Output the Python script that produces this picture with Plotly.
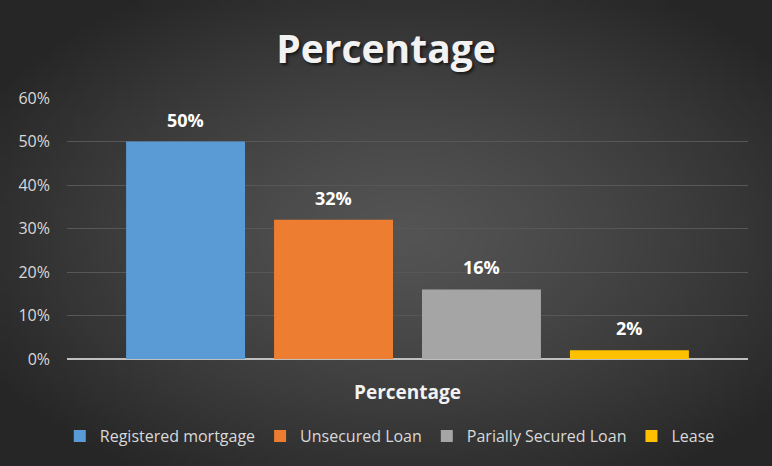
import base64, struct, zlib
import numpy as np
import plotly.graph_objects as go

categories = ["Percentage"]
series_names = ["Registered mortgage", "Unsecured Loan", "Parially Secured Loan", "Lease"]
series_values = [0.50, 0.32, 0.16, 0.02]
series_colors = ["#5b9bd5", "#ed7d31", "#a5a5a5", "#ffc000"]
y_ticks = [0, 0.1, 0.2, 0.3, 0.4, 0.5, 0.6]

BARGAP = 0.131
BARGROUPGAP = 0.196


def radial_png(w, h):
    yy, xx = np.mgrid[0:h, 0:w]
    cx, cy = w * 0.52, h * 0.5
    d = np.sqrt(((xx - cx) / (w * 0.62)) ** 2 + ((yy - cy) / (h * 0.62)) ** 2)
    d = np.clip(d, 0, 1)
    v = (84 - (84 - 38) * d ** 1.3).astype(np.uint8)
    raw = b"".join(b"\x00" + bytes(np.stack([v[r], v[r], v[r]], axis=1).flatten()) for r in range(h))

    def chunk(t, data):
        c = struct.pack(">I", len(data)) + t + data
        return c + struct.pack(">I", zlib.crc32(t + data) & 0xFFFFFFFF)

    png = b"\x89PNG\r\n\x1a\n" + chunk(b"IHDR", struct.pack(">IIBBBBB", w, h, 8, 2, 0, 0, 0))
    png += chunk(b"IDAT", zlib.compress(raw, 9)) + chunk(b"IEND", b"")
    return "data:image/png;base64," + base64.b64encode(png).decode()


fig = go.Figure()
n = len(series_names)
slot = (1 - BARGAP) / n
annotations = []
for i, (name, val, col) in enumerate(zip(series_names, series_values, series_colors)):
    fig.add_trace(go.Bar(
        x=categories, y=[val], name=name,
        marker=dict(color=col, line=dict(width=0)),
    ))
    annotations.append(dict(
        x=(i - (n - 1) / 2) * slot, y=val, xref="x", yref="y",
        text=f"{val:.0%}", showarrow=False, yshift=22, yanchor="middle",
        font=dict(family="Open Sans", size=18, color="#ffffff", weight="bold"),
    ))

fig.update_layout(
    width=772, height=466,
    margin=dict(l=67, r=24, t=98, b=107),
    paper_bgcolor="#3a3a3a",
    plot_bgcolor="rgba(0,0,0,0)",
    images=[dict(source=radial_png(193, 117), xref="paper", yref="paper",
                 x=-67 / 681, y=1 + 98 / 261, sizex=772 / 681, sizey=466 / 261,
                 sizing="stretch", layer="below", xanchor="left", yanchor="top")],
    annotations=annotations,
    barmode="group", bargap=BARGAP, bargroupgap=BARGROUPGAP,
    title=dict(text="Percentage", x=0.5, xref="container", y=0.895, yref="container",
               xanchor="center", yanchor="middle",
               font=dict(family="Open Sans", size=39, color="#f2f2f2", weight="bold",
                         shadow="2px 2px 3px rgba(0,0,0,0.6)")),
    font=dict(family="Open Sans", color="#d9d9d9"),
    showlegend=True,
    legend=dict(orientation="h", x=0.474, xanchor="center", y=-0.295, yanchor="middle",
                font=dict(size=16, color="#d9d9d9"), bgcolor="rgba(0,0,0,0)",
                itemwidth=30, traceorder="normal"),
    xaxis=dict(showticklabels=False, showgrid=False, zeroline=False,
               title=dict(text="Percentage", standoff=26,
                          font=dict(family="Open Sans", size=19, color="#f2f2f2", weight="bold"))),
    yaxis=dict(range=[0, 0.6], tickvals=y_ticks, tickformat=".0%",
               tickfont=dict(size=16, color="#d9d9d9"), ticks="", ticklabelstandoff=16,
               showgrid=True, gridcolor="#575757", gridwidth=1,
               zeroline=True, zerolinecolor="#bfbfbf", zerolinewidth=2,
               showline=False),
)

fig.write_html("out.html", config={"displayModeBar": False},
               post_script="document.body.style.margin='0';")
